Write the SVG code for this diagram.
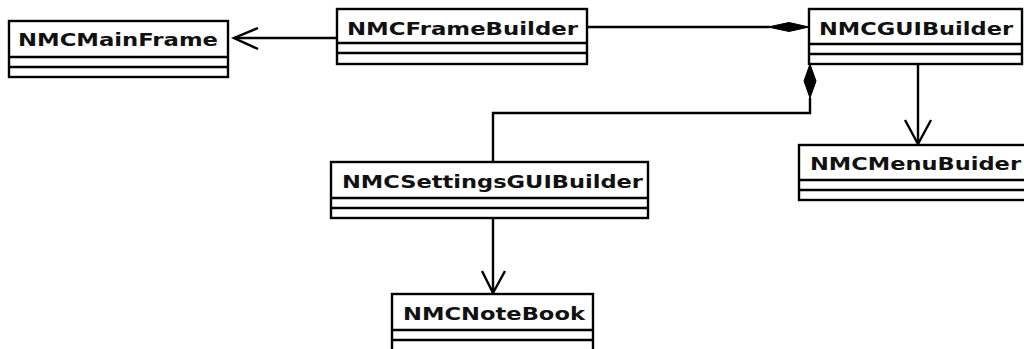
<svg xmlns="http://www.w3.org/2000/svg" width="1024" height="349" viewBox="0 0 1024 349">
  <style>
    .box { fill: #ffffff; stroke: #000000; stroke-width: 2.4; }
    .sep { stroke: #000000; stroke-width: 2.4; fill: none; }
    .name { font-family: "DejaVu Sans", "Liberation Sans", sans-serif; font-weight: bold; font-size: 17.5px; fill: #111111; }
    .edge { stroke: #000000; stroke-width: 2.4; fill: none; }
    .open { stroke: #000000; stroke-width: 2.4; fill: none; }
    .diamond { fill: #000000; stroke: #000000; stroke-width: 1; }
  </style>
  <rect width="1024" height="349" fill="#ffffff"/>

  <!-- connectors -->
  <g id="connectors">
    <!-- NMCFrameBuilder -> NMCMainFrame (navigable association) -->
    <line class="edge" x1="337" y1="38" x2="234" y2="38"/>
    <polyline class="open" points="258,28 234,38 258,49"/>

    <!-- NMCGUIBuilder composes NMCFrameBuilder -->
    <line class="edge" x1="587" y1="27" x2="770" y2="27"/>
    <polygon class="diamond" points="768,27 789,22.5 809,27 789,31.5"/>

    <!-- NMCGUIBuilder composes NMCSettingsGUIBuilder -->
    <polyline class="edge" points="810,98 810,113 493,113 493,162"/>
    <polygon class="diamond" points="810,64 816,81 810,98 804,81"/>

    <!-- NMCGUIBuilder -> NMCMenuBuider -->
    <line class="edge" x1="918" y1="64" x2="918" y2="144"/>
    <polyline class="open" points="905,120 918,144 931,120"/>

    <!-- NMCSettingsGUIBuilder -> NMCNoteBook -->
    <line class="edge" x1="493" y1="218" x2="493" y2="293"/>
    <polyline class="open" points="482,271 493,293 505,271"/>
  </g>

  <g id="NMCMainFrame">
    <rect class="box" x="9" y="21" width="219" height="56"/>
    <line class="sep" x1="9" y1="57" x2="228" y2="57"/>
    <line class="sep" x1="9" y1="67" x2="228" y2="67"/>
    <text class="name" x="18" y="46" textLength="200" lengthAdjust="spacingAndGlyphs">NMCMainFrame</text>
  </g>

  <g id="NMCFrameBuilder">
    <rect class="box" x="337" y="9" width="250" height="55"/>
    <line class="sep" x1="337" y1="43" x2="587" y2="43"/>
    <line class="sep" x1="337" y1="53" x2="587" y2="53"/>
    <text class="name" x="347" y="35" textLength="231" lengthAdjust="spacingAndGlyphs">NMCFrameBuilder</text>
  </g>

  <g id="NMCGUIBuilder">
    <rect class="box" x="809" y="9" width="213" height="55"/>
    <line class="sep" x1="809" y1="44" x2="1022" y2="44"/>
    <line class="sep" x1="809" y1="54" x2="1022" y2="54"/>
    <text class="name" x="819" y="35" textLength="194" lengthAdjust="spacingAndGlyphs">NMCGUIBuilder</text>
  </g>

  <g id="NMCSettingsGUIBuilder">
    <rect class="box" x="331" y="162" width="317" height="56"/>
    <line class="sep" x1="331" y1="198" x2="648" y2="198"/>
    <line class="sep" x1="331" y1="208" x2="648" y2="208"/>
    <text class="name" x="342" y="188" textLength="301" lengthAdjust="spacingAndGlyphs">NMCSettingsGUIBuilder</text>
  </g>

  <g id="NMCMenuBuider">
    <rect class="box" x="799" y="145" width="240" height="55"/>
    <line class="sep" x1="799" y1="180" x2="1039" y2="180"/>
    <line class="sep" x1="799" y1="190" x2="1039" y2="190"/>
    <text class="name" x="810" y="170" textLength="211" lengthAdjust="spacingAndGlyphs">NMCMenuBuider</text>
  </g>

  <g id="NMCNoteBook">
    <rect class="box" x="392" y="294" width="201" height="70"/>
    <line class="sep" x1="392" y1="330" x2="593" y2="330"/>
    <line class="sep" x1="392" y1="340" x2="593" y2="340"/>
    <text class="name" x="403" y="320" textLength="182" lengthAdjust="spacingAndGlyphs">NMCNoteBook</text>
  </g>
</svg>
